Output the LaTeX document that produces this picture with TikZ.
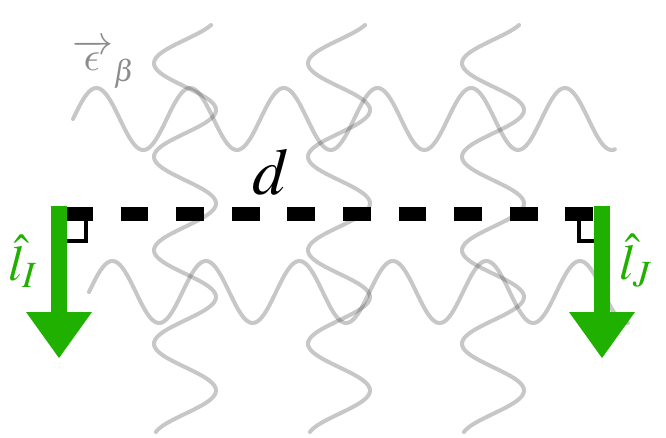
\documentclass[tikz,border=0pt]{standalone}
\usepackage{mathptmx}
\DeclareFontFamily{OML}{mycmm}{\skewchar\font'177}
\DeclareFontShape{OML}{mycmm}{m}{it}{<-> cmmi10}{}
\DeclareSymbolFont{mylet}{OML}{mycmm}{m}{it}
\DeclareMathSymbol{\lunateps}{\mathord}{mylet}{"0F}
\usetikzlibrary{arrows.meta}
\definecolor{vgreen}{RGB}{31,176,0}
\definecolor{wavegray}{RGB}{84,84,84}
\definecolor{labgray}{RGB}{140,140,140}
\begin{document}
\begin{tikzpicture}[x=1pt,y=-1pt,
  wave/.style={draw=wavegray, draw opacity=0.33, line width=4pt, line cap=round, line join=round},
  dashline/.style={line width=14pt, dash pattern=on 27.8pt off 27.8pt},
  rightangle/.style={line width=3.5pt, line join=miter},
  vecarrow/.style={draw=vgreen, fill=vgreen, line width=16pt, -{Triangle[width=66pt,length=46pt,line width=0pt]}},
  lab/.style={inner sep=0pt}]
\useasboundingbox (0,0) rectangle (666,438);
% horizontal waves
\draw[wave] plot[domain=0:2082, samples=300, variable=\t] ({73+\t/360*93.7}, {119-31*sin(\t)});
\draw[wave] plot[domain=0:2075, samples=300, variable=\t] ({89+\t/360*93.5}, {292-31*sin(\t)});
% vertical waves
\foreach \c in {185,339,493}{
  \draw[wave] plot[domain=25:432, samples=250, variable=\t] ({\c+31*cos((\t-16.5)/93.5*360)}, {\t});
}
% dashed distance line
\coordinate (dL) at (65,214);
\coordinate (dR) at (594,214);
\draw[dashline] (dL) -- (dR);
% right-angle marks
\coordinate (raL1) at (86,221); \coordinate (raL2) at (86,241); \coordinate (raL3) at (66,241);
\draw[rightangle] (raL1) -- (raL2) -- (raL3);
\coordinate (raR1) at (579,221); \coordinate (raR2) at (579,241); \coordinate (raR3) at (594,241);
\draw[rightangle] (raR1) -- (raR2) -- (raR3);
% arrows
\coordinate (aIt) at (59,206); \coordinate (aIb) at (59,358);
\coordinate (aJt) at (602,206); \coordinate (aJb) at (602,358);
\draw[vecarrow] (aIt) -- (aIb);
\draw[vecarrow] (aJt) -- (aJb);
% labels
\node[lab, text=vgreen, anchor=base west, font=\fontsize{50}{50}\selectfont] (lI) at (8,280) {$\hat{l}_I$};
\node[lab, text=vgreen, anchor=base west, font=\fontsize{50}{50}\selectfont] (lJ) at (619,279) {$\hat{l}_J$};
\node[lab, anchor=base, font=\fontsize{66}{66}\selectfont] (d) at (271,195) {$d$};
\node[lab, text=labgray, anchor=base west, font=\fontsize{41}{41}\selectfont] (eps) at (72,71) {$\overrightarrow{\mkern5mu\lunateps\mkern6mu}_{\lower4pt\hbox{$\scriptstyle\beta$}}$};
\end{tikzpicture}
\end{document}
